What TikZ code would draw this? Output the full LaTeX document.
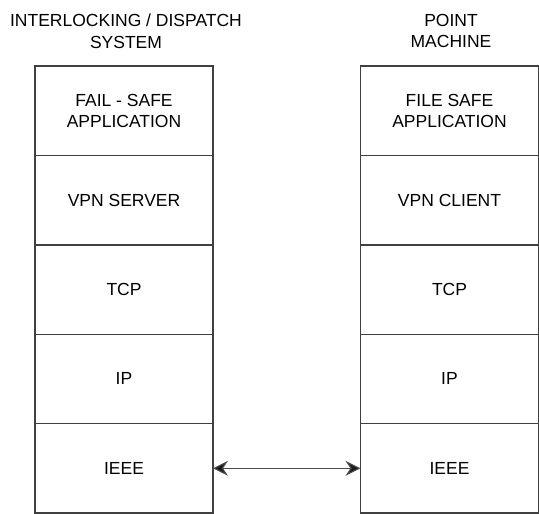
\documentclass[tikz,border=0pt]{standalone}
\usepackage{fontspec}
\setmainfont{Liberation Sans}
\usetikzlibrary{arrows.meta}
\tikzset{
  x=1pt, y=-1pt,
  layer/.style={draw=black!75, line width=1.4pt, minimum width=178pt, minimum height=89.4pt,
    inner sep=0pt, outer sep=0pt, align=center, font=\fontsize{17.5}{21}\selectfont, text=black},
  heading/.style={align=center, font=\fontsize{17.5}{21.5}\selectfont, text=black},
  link/.style={draw=black!70, line width=1.1pt,
    {Stealth[length=15pt,width=15pt,inset=5pt,fill=black!90]}-{Stealth[length=15pt,width=15pt,inset=5pt,fill=black!90]}}
}
\begin{document}
\begin{tikzpicture}
\useasboundingbox (0,0) rectangle (539,514);
% headings
\node[heading] (hl) at (126,31) {INTERLOCKING / DISPATCH\\SYSTEM};
\node[heading] (hr) at (451,31) {POINT\\MACHINE};
% left protocol stack
\node[layer] (l1) at (124,110.7) {FAIL - SAFE\\APPLICATION};
\node[layer, anchor=north] (l2) at (l1.south) {VPN SERVER};
\node[layer, anchor=north] (l3) at (l2.south) {TCP};
\node[layer, anchor=north] (l4) at (l3.south) {IP};
\node[layer, anchor=north] (l5) at (l4.south) {IEEE};
% right protocol stack
\node[layer] (r1) at (449.5,110.7) {FILE SAFE\\APPLICATION};
\node[layer, anchor=north] (r2) at (r1.south) {VPN CLIENT};
\node[layer, anchor=north] (r3) at (r2.south) {TCP};
\node[layer, anchor=north] (r4) at (r3.south) {IP};
\node[layer, anchor=north] (r5) at (r4.south) {IEEE};
% physical link
\draw[link] (l5.east) -- (r5.west);
\end{tikzpicture}
\end{document}
